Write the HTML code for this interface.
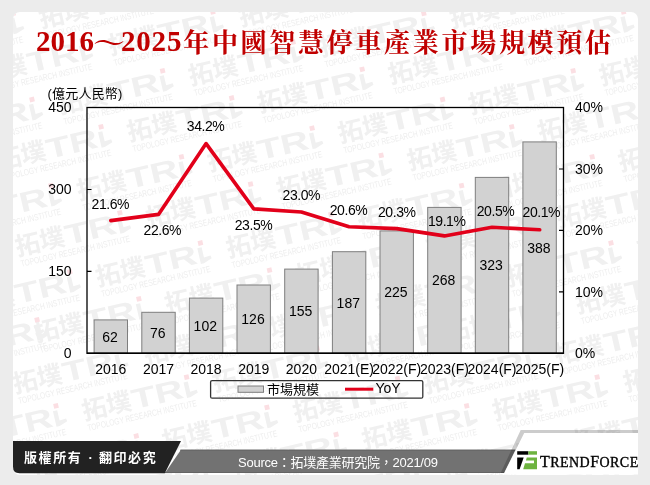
<!DOCTYPE html>
<html><head><meta charset="utf-8">
<style>
html,body{margin:0;padding:0;}
body{width:650px;height:485px;overflow:hidden;background:#ececec;position:relative;font-family:"Liberation Sans","Noto Sans CJK TC","Noto Sans CJK SC",sans-serif;}
#panel{position:absolute;left:12.5px;top:12px;width:625.5px;height:462.5px;background:#fff;border-radius:7px;overflow:hidden;}
#title{position:absolute;left:36px;top:22px;white-space:nowrap;color:#c00000;font-weight:bold;font-size:28px;line-height:40px;}
#title .n{font-family:"Liberation Serif",serif;font-size:29px;position:relative;top:-2px;}
#title .c{font-family:"Noto Serif CJK SC","Noto Serif CJK TC",serif;letter-spacing:2.7px;font-size:26px;font-weight:700;position:relative;top:-1px;}
#title .t{font-family:"Noto Serif CJK SC","Noto Serif CJK TC",serif;font-size:27px;margin:0 1px 0 -1px;display:inline-block;transform:scaleX(1.19);transform-origin:0 0;}
svg{position:absolute;left:0;top:0;}
#wm{left:-12.5px;top:-12px;}
#wm .wc{font-family:"Noto Sans CJK TC","Noto Sans CJK SC",sans-serif;font-weight:bold;font-size:25px;fill:#f0f0f0;}
#wm .wt{font-family:"Liberation Sans",sans-serif;font-size:28px;font-weight:bold;fill:#f0f0f0;letter-spacing:0px;}
#wm .ws{font-family:"Liberation Sans",sans-serif;font-size:9px;fill:#eeeeee;}
svg text{font-family:"Liberation Sans","Noto Sans CJK TC","Noto Sans CJK SC",sans-serif;font-size:14px;fill:#000;}
.bar{fill:#d2d2d2;stroke:#7e7e7e;stroke-width:1;}
.ln{fill:none;stroke:#e2001a;stroke-width:3.6;stroke-linejoin:round;stroke-linecap:round;}
#foot1{position:absolute;left:24px;top:449px;color:#fff;font-size:13px;font-weight:bold;letter-spacing:1.6px;white-space:nowrap;font-family:"Noto Sans CJK TC","Noto Sans CJK SC",sans-serif;line-height:16px;}
#foot1 .dot{display:inline-block;width:16.5px;text-align:center;letter-spacing:0;font-family:"Liberation Sans",sans-serif;}
#foot2{position:absolute;left:238px;top:454.5px;color:#fff;font-size:13px;white-space:nowrap;line-height:16px;letter-spacing:-0.25px;font-family:"Liberation Sans","Noto Sans CJK TC","Noto Sans CJK SC",sans-serif;}
#tf{position:absolute;left:540px;top:452.5px;font-family:"Liberation Serif",serif;font-size:16px;color:#000;white-space:nowrap;line-height:18px;letter-spacing:0.45px;}
#tf span{font-size:14px;}
#tf{-webkit-text-stroke:0.35px #000;}
</style></head><body>
<div id="panel"><svg id="wm" width="650" height="485" viewBox="0 0 650 485">
<g transform="translate(143.6,-15.2) rotate(-13)"><text x="-109.5" y="19" class="wc">拓墣</text><text transform="translate(-58.5,19.5) scale(1.4,1)" class="wt">TR</text><path d="M-4.2 4.5H0.2V15L7 14.5L7.5 17.5L-1 20.5H-4.2Z" fill="#f0f0f0"/><rect x="-2.4" y="-2.4" width="4.8" height="4.8" fill="#fbdfe3"/><text x="-108" y="30.5" class="ws" textLength="112" lengthAdjust="spacingAndGlyphs">TOPOLOGY RESEARCH INSTITUTE</text></g>
<g transform="translate(554.3,-15.2) rotate(-13)"><text x="-109.5" y="19" class="wc">拓墣</text><text transform="translate(-58.5,19.5) scale(1.4,1)" class="wt">TR</text><path d="M-4.2 4.5H0.2V15L7 14.5L7.5 17.5L-1 20.5H-4.2Z" fill="#f0f0f0"/><rect x="-2.4" y="-2.4" width="4.8" height="4.8" fill="#fbdfe3"/><text x="-108" y="30.5" class="ws" textLength="112" lengthAdjust="spacingAndGlyphs">TOPOLOGY RESEARCH INSTITUTE</text></g>
<g transform="translate(343.3,-16.8) rotate(-13)"><text x="-109.5" y="19" class="wc">拓墣</text><text transform="translate(-58.5,19.5) scale(1.4,1)" class="wt">TR</text><path d="M-4.2 4.5H0.2V15L7 14.5L7.5 17.5L-1 20.5H-4.2Z" fill="#f0f0f0"/><rect x="-2.4" y="-2.4" width="4.8" height="4.8" fill="#fbdfe3"/><text x="-108" y="30.5" class="ws" textLength="112" lengthAdjust="spacingAndGlyphs">TOPOLOGY RESEARCH INSTITUTE</text></g>
<g transform="translate(754.0,-16.8) rotate(-13)"><text x="-109.5" y="19" class="wc">拓墣</text><text transform="translate(-58.5,19.5) scale(1.4,1)" class="wt">TR</text><path d="M-4.2 4.5H0.2V15L7 14.5L7.5 17.5L-1 20.5H-4.2Z" fill="#f0f0f0"/><rect x="-2.4" y="-2.4" width="4.8" height="4.8" fill="#fbdfe3"/><text x="-108" y="30.5" class="ws" textLength="112" lengthAdjust="spacingAndGlyphs">TOPOLOGY RESEARCH INSTITUTE</text></g>
<g transform="translate(13.1,13.4) rotate(-13)"><text x="-109.5" y="19" class="wc">拓墣</text><text transform="translate(-58.5,19.5) scale(1.4,1)" class="wt">TR</text><path d="M-4.2 4.5H0.2V15L7 14.5L7.5 17.5L-1 20.5H-4.2Z" fill="#f0f0f0"/><rect x="-2.4" y="-2.4" width="4.8" height="4.8" fill="#fbdfe3"/><text x="-108" y="30.5" class="ws" textLength="112" lengthAdjust="spacingAndGlyphs">TOPOLOGY RESEARCH INSTITUTE</text></g>
<g transform="translate(423.8,13.4) rotate(-13)"><text x="-109.5" y="19" class="wc">拓墣</text><text transform="translate(-58.5,19.5) scale(1.4,1)" class="wt">TR</text><path d="M-4.2 4.5H0.2V15L7 14.5L7.5 17.5L-1 20.5H-4.2Z" fill="#f0f0f0"/><rect x="-2.4" y="-2.4" width="4.8" height="4.8" fill="#fbdfe3"/><text x="-108" y="30.5" class="ws" textLength="112" lengthAdjust="spacingAndGlyphs">TOPOLOGY RESEARCH INSTITUTE</text></g>
<g transform="translate(212.8,11.9) rotate(-13)"><text x="-109.5" y="19" class="wc">拓墣</text><text transform="translate(-58.5,19.5) scale(1.4,1)" class="wt">TR</text><path d="M-4.2 4.5H0.2V15L7 14.5L7.5 17.5L-1 20.5H-4.2Z" fill="#f0f0f0"/><rect x="-2.4" y="-2.4" width="4.8" height="4.8" fill="#fbdfe3"/><text x="-108" y="30.5" class="ws" textLength="112" lengthAdjust="spacingAndGlyphs">TOPOLOGY RESEARCH INSTITUTE</text></g>
<g transform="translate(623.5,11.9) rotate(-13)"><text x="-109.5" y="19" class="wc">拓墣</text><text transform="translate(-58.5,19.5) scale(1.4,1)" class="wt">TR</text><path d="M-4.2 4.5H0.2V15L7 14.5L7.5 17.5L-1 20.5H-4.2Z" fill="#f0f0f0"/><rect x="-2.4" y="-2.4" width="4.8" height="4.8" fill="#fbdfe3"/><text x="-108" y="30.5" class="ws" textLength="112" lengthAdjust="spacingAndGlyphs">TOPOLOGY RESEARCH INSTITUTE</text></g>
<g transform="translate(293.1,42.1) rotate(-13)"><text x="-109.5" y="19" class="wc">拓墣</text><text transform="translate(-58.5,19.5) scale(1.4,1)" class="wt">TR</text><path d="M-4.2 4.5H0.2V15L7 14.5L7.5 17.5L-1 20.5H-4.2Z" fill="#f0f0f0"/><rect x="-2.4" y="-2.4" width="4.8" height="4.8" fill="#fbdfe3"/><text x="-108" y="30.5" class="ws" textLength="112" lengthAdjust="spacingAndGlyphs">TOPOLOGY RESEARCH INSTITUTE</text></g>
<g transform="translate(703.8,42.1) rotate(-13)"><text x="-109.5" y="19" class="wc">拓墣</text><text transform="translate(-58.5,19.5) scale(1.4,1)" class="wt">TR</text><path d="M-4.2 4.5H0.2V15L7 14.5L7.5 17.5L-1 20.5H-4.2Z" fill="#f0f0f0"/><rect x="-2.4" y="-2.4" width="4.8" height="4.8" fill="#fbdfe3"/><text x="-108" y="30.5" class="ws" textLength="112" lengthAdjust="spacingAndGlyphs">TOPOLOGY RESEARCH INSTITUTE</text></g>
<g transform="translate(82.1,40.6) rotate(-13)"><text x="-109.5" y="19" class="wc">拓墣</text><text transform="translate(-58.5,19.5) scale(1.4,1)" class="wt">TR</text><path d="M-4.2 4.5H0.2V15L7 14.5L7.5 17.5L-1 20.5H-4.2Z" fill="#f0f0f0"/><rect x="-2.4" y="-2.4" width="4.8" height="4.8" fill="#fbdfe3"/><text x="-108" y="30.5" class="ws" textLength="112" lengthAdjust="spacingAndGlyphs">TOPOLOGY RESEARCH INSTITUTE</text></g>
<g transform="translate(492.8,40.6) rotate(-13)"><text x="-109.5" y="19" class="wc">拓墣</text><text transform="translate(-58.5,19.5) scale(1.4,1)" class="wt">TR</text><path d="M-4.2 4.5H0.2V15L7 14.5L7.5 17.5L-1 20.5H-4.2Z" fill="#f0f0f0"/><rect x="-2.4" y="-2.4" width="4.8" height="4.8" fill="#fbdfe3"/><text x="-108" y="30.5" class="ws" textLength="112" lengthAdjust="spacingAndGlyphs">TOPOLOGY RESEARCH INSTITUTE</text></g>
<g transform="translate(162.6,70.8) rotate(-13)"><text x="-109.5" y="19" class="wc">拓墣</text><text transform="translate(-58.5,19.5) scale(1.4,1)" class="wt">TR</text><path d="M-4.2 4.5H0.2V15L7 14.5L7.5 17.5L-1 20.5H-4.2Z" fill="#f0f0f0"/><rect x="-2.4" y="-2.4" width="4.8" height="4.8" fill="#fbdfe3"/><text x="-108" y="30.5" class="ws" textLength="112" lengthAdjust="spacingAndGlyphs">TOPOLOGY RESEARCH INSTITUTE</text></g>
<g transform="translate(573.2,70.8) rotate(-13)"><text x="-109.5" y="19" class="wc">拓墣</text><text transform="translate(-58.5,19.5) scale(1.4,1)" class="wt">TR</text><path d="M-4.2 4.5H0.2V15L7 14.5L7.5 17.5L-1 20.5H-4.2Z" fill="#f0f0f0"/><rect x="-2.4" y="-2.4" width="4.8" height="4.8" fill="#fbdfe3"/><text x="-108" y="30.5" class="ws" textLength="112" lengthAdjust="spacingAndGlyphs">TOPOLOGY RESEARCH INSTITUTE</text></g>
<g transform="translate(362.2,69.3) rotate(-13)"><text x="-109.5" y="19" class="wc">拓墣</text><text transform="translate(-58.5,19.5) scale(1.4,1)" class="wt">TR</text><path d="M-4.2 4.5H0.2V15L7 14.5L7.5 17.5L-1 20.5H-4.2Z" fill="#f0f0f0"/><rect x="-2.4" y="-2.4" width="4.8" height="4.8" fill="#fbdfe3"/><text x="-108" y="30.5" class="ws" textLength="112" lengthAdjust="spacingAndGlyphs">TOPOLOGY RESEARCH INSTITUTE</text></g>
<g transform="translate(32.0,99.5) rotate(-13)"><text x="-109.5" y="19" class="wc">拓墣</text><text transform="translate(-58.5,19.5) scale(1.4,1)" class="wt">TR</text><path d="M-4.2 4.5H0.2V15L7 14.5L7.5 17.5L-1 20.5H-4.2Z" fill="#f0f0f0"/><rect x="-2.4" y="-2.4" width="4.8" height="4.8" fill="#fbdfe3"/><text x="-108" y="30.5" class="ws" textLength="112" lengthAdjust="spacingAndGlyphs">TOPOLOGY RESEARCH INSTITUTE</text></g>
<g transform="translate(442.6,99.5) rotate(-13)"><text x="-109.5" y="19" class="wc">拓墣</text><text transform="translate(-58.5,19.5) scale(1.4,1)" class="wt">TR</text><path d="M-4.2 4.5H0.2V15L7 14.5L7.5 17.5L-1 20.5H-4.2Z" fill="#f0f0f0"/><rect x="-2.4" y="-2.4" width="4.8" height="4.8" fill="#fbdfe3"/><text x="-108" y="30.5" class="ws" textLength="112" lengthAdjust="spacingAndGlyphs">TOPOLOGY RESEARCH INSTITUTE</text></g>
<g transform="translate(231.7,98.0) rotate(-13)"><text x="-109.5" y="19" class="wc">拓墣</text><text transform="translate(-58.5,19.5) scale(1.4,1)" class="wt">TR</text><path d="M-4.2 4.5H0.2V15L7 14.5L7.5 17.5L-1 20.5H-4.2Z" fill="#f0f0f0"/><rect x="-2.4" y="-2.4" width="4.8" height="4.8" fill="#fbdfe3"/><text x="-108" y="30.5" class="ws" textLength="112" lengthAdjust="spacingAndGlyphs">TOPOLOGY RESEARCH INSTITUTE</text></g>
<g transform="translate(642.4,98.0) rotate(-13)"><text x="-109.5" y="19" class="wc">拓墣</text><text transform="translate(-58.5,19.5) scale(1.4,1)" class="wt">TR</text><path d="M-4.2 4.5H0.2V15L7 14.5L7.5 17.5L-1 20.5H-4.2Z" fill="#f0f0f0"/><rect x="-2.4" y="-2.4" width="4.8" height="4.8" fill="#fbdfe3"/><text x="-108" y="30.5" class="ws" textLength="112" lengthAdjust="spacingAndGlyphs">TOPOLOGY RESEARCH INSTITUTE</text></g>
<g transform="translate(312.1,128.2) rotate(-13)"><text x="-109.5" y="19" class="wc">拓墣</text><text transform="translate(-58.5,19.5) scale(1.4,1)" class="wt">TR</text><path d="M-4.2 4.5H0.2V15L7 14.5L7.5 17.5L-1 20.5H-4.2Z" fill="#f0f0f0"/><rect x="-2.4" y="-2.4" width="4.8" height="4.8" fill="#fbdfe3"/><text x="-108" y="30.5" class="ws" textLength="112" lengthAdjust="spacingAndGlyphs">TOPOLOGY RESEARCH INSTITUTE</text></g>
<g transform="translate(722.8,128.2) rotate(-13)"><text x="-109.5" y="19" class="wc">拓墣</text><text transform="translate(-58.5,19.5) scale(1.4,1)" class="wt">TR</text><path d="M-4.2 4.5H0.2V15L7 14.5L7.5 17.5L-1 20.5H-4.2Z" fill="#f0f0f0"/><rect x="-2.4" y="-2.4" width="4.8" height="4.8" fill="#fbdfe3"/><text x="-108" y="30.5" class="ws" textLength="112" lengthAdjust="spacingAndGlyphs">TOPOLOGY RESEARCH INSTITUTE</text></g>
<g transform="translate(101.1,126.8) rotate(-13)"><text x="-109.5" y="19" class="wc">拓墣</text><text transform="translate(-58.5,19.5) scale(1.4,1)" class="wt">TR</text><path d="M-4.2 4.5H0.2V15L7 14.5L7.5 17.5L-1 20.5H-4.2Z" fill="#f0f0f0"/><rect x="-2.4" y="-2.4" width="4.8" height="4.8" fill="#fbdfe3"/><text x="-108" y="30.5" class="ws" textLength="112" lengthAdjust="spacingAndGlyphs">TOPOLOGY RESEARCH INSTITUTE</text></g>
<g transform="translate(511.8,126.8) rotate(-13)"><text x="-109.5" y="19" class="wc">拓墣</text><text transform="translate(-58.5,19.5) scale(1.4,1)" class="wt">TR</text><path d="M-4.2 4.5H0.2V15L7 14.5L7.5 17.5L-1 20.5H-4.2Z" fill="#f0f0f0"/><rect x="-2.4" y="-2.4" width="4.8" height="4.8" fill="#fbdfe3"/><text x="-108" y="30.5" class="ws" textLength="112" lengthAdjust="spacingAndGlyphs">TOPOLOGY RESEARCH INSTITUTE</text></g>
<g transform="translate(181.5,156.9) rotate(-13)"><text x="-109.5" y="19" class="wc">拓墣</text><text transform="translate(-58.5,19.5) scale(1.4,1)" class="wt">TR</text><path d="M-4.2 4.5H0.2V15L7 14.5L7.5 17.5L-1 20.5H-4.2Z" fill="#f0f0f0"/><rect x="-2.4" y="-2.4" width="4.8" height="4.8" fill="#fbdfe3"/><text x="-108" y="30.5" class="ws" textLength="112" lengthAdjust="spacingAndGlyphs">TOPOLOGY RESEARCH INSTITUTE</text></g>
<g transform="translate(592.2,156.9) rotate(-13)"><text x="-109.5" y="19" class="wc">拓墣</text><text transform="translate(-58.5,19.5) scale(1.4,1)" class="wt">TR</text><path d="M-4.2 4.5H0.2V15L7 14.5L7.5 17.5L-1 20.5H-4.2Z" fill="#f0f0f0"/><rect x="-2.4" y="-2.4" width="4.8" height="4.8" fill="#fbdfe3"/><text x="-108" y="30.5" class="ws" textLength="112" lengthAdjust="spacingAndGlyphs">TOPOLOGY RESEARCH INSTITUTE</text></g>
<g transform="translate(381.2,155.4) rotate(-13)"><text x="-109.5" y="19" class="wc">拓墣</text><text transform="translate(-58.5,19.5) scale(1.4,1)" class="wt">TR</text><path d="M-4.2 4.5H0.2V15L7 14.5L7.5 17.5L-1 20.5H-4.2Z" fill="#f0f0f0"/><rect x="-2.4" y="-2.4" width="4.8" height="4.8" fill="#fbdfe3"/><text x="-108" y="30.5" class="ws" textLength="112" lengthAdjust="spacingAndGlyphs">TOPOLOGY RESEARCH INSTITUTE</text></g>
<g transform="translate(50.9,185.6) rotate(-13)"><text x="-109.5" y="19" class="wc">拓墣</text><text transform="translate(-58.5,19.5) scale(1.4,1)" class="wt">TR</text><path d="M-4.2 4.5H0.2V15L7 14.5L7.5 17.5L-1 20.5H-4.2Z" fill="#f0f0f0"/><rect x="-2.4" y="-2.4" width="4.8" height="4.8" fill="#fbdfe3"/><text x="-108" y="30.5" class="ws" textLength="112" lengthAdjust="spacingAndGlyphs">TOPOLOGY RESEARCH INSTITUTE</text></g>
<g transform="translate(461.6,185.6) rotate(-13)"><text x="-109.5" y="19" class="wc">拓墣</text><text transform="translate(-58.5,19.5) scale(1.4,1)" class="wt">TR</text><path d="M-4.2 4.5H0.2V15L7 14.5L7.5 17.5L-1 20.5H-4.2Z" fill="#f0f0f0"/><rect x="-2.4" y="-2.4" width="4.8" height="4.8" fill="#fbdfe3"/><text x="-108" y="30.5" class="ws" textLength="112" lengthAdjust="spacingAndGlyphs">TOPOLOGY RESEARCH INSTITUTE</text></g>
<g transform="translate(250.6,184.1) rotate(-13)"><text x="-109.5" y="19" class="wc">拓墣</text><text transform="translate(-58.5,19.5) scale(1.4,1)" class="wt">TR</text><path d="M-4.2 4.5H0.2V15L7 14.5L7.5 17.5L-1 20.5H-4.2Z" fill="#f0f0f0"/><rect x="-2.4" y="-2.4" width="4.8" height="4.8" fill="#fbdfe3"/><text x="-108" y="30.5" class="ws" textLength="112" lengthAdjust="spacingAndGlyphs">TOPOLOGY RESEARCH INSTITUTE</text></g>
<g transform="translate(661.2,184.1) rotate(-13)"><text x="-109.5" y="19" class="wc">拓墣</text><text transform="translate(-58.5,19.5) scale(1.4,1)" class="wt">TR</text><path d="M-4.2 4.5H0.2V15L7 14.5L7.5 17.5L-1 20.5H-4.2Z" fill="#f0f0f0"/><rect x="-2.4" y="-2.4" width="4.8" height="4.8" fill="#fbdfe3"/><text x="-108" y="30.5" class="ws" textLength="112" lengthAdjust="spacingAndGlyphs">TOPOLOGY RESEARCH INSTITUTE</text></g>
<g transform="translate(330.9,214.3) rotate(-13)"><text x="-109.5" y="19" class="wc">拓墣</text><text transform="translate(-58.5,19.5) scale(1.4,1)" class="wt">TR</text><path d="M-4.2 4.5H0.2V15L7 14.5L7.5 17.5L-1 20.5H-4.2Z" fill="#f0f0f0"/><rect x="-2.4" y="-2.4" width="4.8" height="4.8" fill="#fbdfe3"/><text x="-108" y="30.5" class="ws" textLength="112" lengthAdjust="spacingAndGlyphs">TOPOLOGY RESEARCH INSTITUTE</text></g>
<g transform="translate(741.6,214.3) rotate(-13)"><text x="-109.5" y="19" class="wc">拓墣</text><text transform="translate(-58.5,19.5) scale(1.4,1)" class="wt">TR</text><path d="M-4.2 4.5H0.2V15L7 14.5L7.5 17.5L-1 20.5H-4.2Z" fill="#f0f0f0"/><rect x="-2.4" y="-2.4" width="4.8" height="4.8" fill="#fbdfe3"/><text x="-108" y="30.5" class="ws" textLength="112" lengthAdjust="spacingAndGlyphs">TOPOLOGY RESEARCH INSTITUTE</text></g>
<g transform="translate(119.9,212.8) rotate(-13)"><text x="-109.5" y="19" class="wc">拓墣</text><text transform="translate(-58.5,19.5) scale(1.4,1)" class="wt">TR</text><path d="M-4.2 4.5H0.2V15L7 14.5L7.5 17.5L-1 20.5H-4.2Z" fill="#f0f0f0"/><rect x="-2.4" y="-2.4" width="4.8" height="4.8" fill="#fbdfe3"/><text x="-108" y="30.5" class="ws" textLength="112" lengthAdjust="spacingAndGlyphs">TOPOLOGY RESEARCH INSTITUTE</text></g>
<g transform="translate(530.6,212.8) rotate(-13)"><text x="-109.5" y="19" class="wc">拓墣</text><text transform="translate(-58.5,19.5) scale(1.4,1)" class="wt">TR</text><path d="M-4.2 4.5H0.2V15L7 14.5L7.5 17.5L-1 20.5H-4.2Z" fill="#f0f0f0"/><rect x="-2.4" y="-2.4" width="4.8" height="4.8" fill="#fbdfe3"/><text x="-108" y="30.5" class="ws" textLength="112" lengthAdjust="spacingAndGlyphs">TOPOLOGY RESEARCH INSTITUTE</text></g>
<g transform="translate(200.4,243.0) rotate(-13)"><text x="-109.5" y="19" class="wc">拓墣</text><text transform="translate(-58.5,19.5) scale(1.4,1)" class="wt">TR</text><path d="M-4.2 4.5H0.2V15L7 14.5L7.5 17.5L-1 20.5H-4.2Z" fill="#f0f0f0"/><rect x="-2.4" y="-2.4" width="4.8" height="4.8" fill="#fbdfe3"/><text x="-108" y="30.5" class="ws" textLength="112" lengthAdjust="spacingAndGlyphs">TOPOLOGY RESEARCH INSTITUTE</text></g>
<g transform="translate(611.0,243.0) rotate(-13)"><text x="-109.5" y="19" class="wc">拓墣</text><text transform="translate(-58.5,19.5) scale(1.4,1)" class="wt">TR</text><path d="M-4.2 4.5H0.2V15L7 14.5L7.5 17.5L-1 20.5H-4.2Z" fill="#f0f0f0"/><rect x="-2.4" y="-2.4" width="4.8" height="4.8" fill="#fbdfe3"/><text x="-108" y="30.5" class="ws" textLength="112" lengthAdjust="spacingAndGlyphs">TOPOLOGY RESEARCH INSTITUTE</text></g>
<g transform="translate(400.1,241.5) rotate(-13)"><text x="-109.5" y="19" class="wc">拓墣</text><text transform="translate(-58.5,19.5) scale(1.4,1)" class="wt">TR</text><path d="M-4.2 4.5H0.2V15L7 14.5L7.5 17.5L-1 20.5H-4.2Z" fill="#f0f0f0"/><rect x="-2.4" y="-2.4" width="4.8" height="4.8" fill="#fbdfe3"/><text x="-108" y="30.5" class="ws" textLength="112" lengthAdjust="spacingAndGlyphs">TOPOLOGY RESEARCH INSTITUTE</text></g>
<g transform="translate(69.8,271.8) rotate(-13)"><text x="-109.5" y="19" class="wc">拓墣</text><text transform="translate(-58.5,19.5) scale(1.4,1)" class="wt">TR</text><path d="M-4.2 4.5H0.2V15L7 14.5L7.5 17.5L-1 20.5H-4.2Z" fill="#f0f0f0"/><rect x="-2.4" y="-2.4" width="4.8" height="4.8" fill="#fbdfe3"/><text x="-108" y="30.5" class="ws" textLength="112" lengthAdjust="spacingAndGlyphs">TOPOLOGY RESEARCH INSTITUTE</text></g>
<g transform="translate(480.5,271.8) rotate(-13)"><text x="-109.5" y="19" class="wc">拓墣</text><text transform="translate(-58.5,19.5) scale(1.4,1)" class="wt">TR</text><path d="M-4.2 4.5H0.2V15L7 14.5L7.5 17.5L-1 20.5H-4.2Z" fill="#f0f0f0"/><rect x="-2.4" y="-2.4" width="4.8" height="4.8" fill="#fbdfe3"/><text x="-108" y="30.5" class="ws" textLength="112" lengthAdjust="spacingAndGlyphs">TOPOLOGY RESEARCH INSTITUTE</text></g>
<g transform="translate(269.5,270.2) rotate(-13)"><text x="-109.5" y="19" class="wc">拓墣</text><text transform="translate(-58.5,19.5) scale(1.4,1)" class="wt">TR</text><path d="M-4.2 4.5H0.2V15L7 14.5L7.5 17.5L-1 20.5H-4.2Z" fill="#f0f0f0"/><rect x="-2.4" y="-2.4" width="4.8" height="4.8" fill="#fbdfe3"/><text x="-108" y="30.5" class="ws" textLength="112" lengthAdjust="spacingAndGlyphs">TOPOLOGY RESEARCH INSTITUTE</text></g>
<g transform="translate(680.2,270.2) rotate(-13)"><text x="-109.5" y="19" class="wc">拓墣</text><text transform="translate(-58.5,19.5) scale(1.4,1)" class="wt">TR</text><path d="M-4.2 4.5H0.2V15L7 14.5L7.5 17.5L-1 20.5H-4.2Z" fill="#f0f0f0"/><rect x="-2.4" y="-2.4" width="4.8" height="4.8" fill="#fbdfe3"/><text x="-108" y="30.5" class="ws" textLength="112" lengthAdjust="spacingAndGlyphs">TOPOLOGY RESEARCH INSTITUTE</text></g>
<g transform="translate(349.8,300.4) rotate(-13)"><text x="-109.5" y="19" class="wc">拓墣</text><text transform="translate(-58.5,19.5) scale(1.4,1)" class="wt">TR</text><path d="M-4.2 4.5H0.2V15L7 14.5L7.5 17.5L-1 20.5H-4.2Z" fill="#f0f0f0"/><rect x="-2.4" y="-2.4" width="4.8" height="4.8" fill="#fbdfe3"/><text x="-108" y="30.5" class="ws" textLength="112" lengthAdjust="spacingAndGlyphs">TOPOLOGY RESEARCH INSTITUTE</text></g>
<g transform="translate(760.5,300.4) rotate(-13)"><text x="-109.5" y="19" class="wc">拓墣</text><text transform="translate(-58.5,19.5) scale(1.4,1)" class="wt">TR</text><path d="M-4.2 4.5H0.2V15L7 14.5L7.5 17.5L-1 20.5H-4.2Z" fill="#f0f0f0"/><rect x="-2.4" y="-2.4" width="4.8" height="4.8" fill="#fbdfe3"/><text x="-108" y="30.5" class="ws" textLength="112" lengthAdjust="spacingAndGlyphs">TOPOLOGY RESEARCH INSTITUTE</text></g>
<g transform="translate(138.9,298.9) rotate(-13)"><text x="-109.5" y="19" class="wc">拓墣</text><text transform="translate(-58.5,19.5) scale(1.4,1)" class="wt">TR</text><path d="M-4.2 4.5H0.2V15L7 14.5L7.5 17.5L-1 20.5H-4.2Z" fill="#f0f0f0"/><rect x="-2.4" y="-2.4" width="4.8" height="4.8" fill="#fbdfe3"/><text x="-108" y="30.5" class="ws" textLength="112" lengthAdjust="spacingAndGlyphs">TOPOLOGY RESEARCH INSTITUTE</text></g>
<g transform="translate(549.5,298.9) rotate(-13)"><text x="-109.5" y="19" class="wc">拓墣</text><text transform="translate(-58.5,19.5) scale(1.4,1)" class="wt">TR</text><path d="M-4.2 4.5H0.2V15L7 14.5L7.5 17.5L-1 20.5H-4.2Z" fill="#f0f0f0"/><rect x="-2.4" y="-2.4" width="4.8" height="4.8" fill="#fbdfe3"/><text x="-108" y="30.5" class="ws" textLength="112" lengthAdjust="spacingAndGlyphs">TOPOLOGY RESEARCH INSTITUTE</text></g>
<g transform="translate(248.1,321.2) rotate(-13)"><text x="-109.5" y="19" class="wc">拓墣</text><text transform="translate(-58.5,19.5) scale(1.4,1)" class="wt">TR</text><path d="M-4.2 4.5H0.2V15L7 14.5L7.5 17.5L-1 20.5H-4.2Z" fill="#f0f0f0"/><rect x="-2.4" y="-2.4" width="4.8" height="4.8" fill="#fbdfe3"/><text x="-108" y="30.5" class="ws" textLength="112" lengthAdjust="spacingAndGlyphs">TOPOLOGY RESEARCH INSTITUTE</text></g>
<g transform="translate(658.8,321.2) rotate(-13)"><text x="-109.5" y="19" class="wc">拓墣</text><text transform="translate(-58.5,19.5) scale(1.4,1)" class="wt">TR</text><path d="M-4.2 4.5H0.2V15L7 14.5L7.5 17.5L-1 20.5H-4.2Z" fill="#f0f0f0"/><rect x="-2.4" y="-2.4" width="4.8" height="4.8" fill="#fbdfe3"/><text x="-108" y="30.5" class="ws" textLength="112" lengthAdjust="spacingAndGlyphs">TOPOLOGY RESEARCH INSTITUTE</text></g>
<g transform="translate(37.1,319.8) rotate(-13)"><text x="-109.5" y="19" class="wc">拓墣</text><text transform="translate(-58.5,19.5) scale(1.4,1)" class="wt">TR</text><path d="M-4.2 4.5H0.2V15L7 14.5L7.5 17.5L-1 20.5H-4.2Z" fill="#f0f0f0"/><rect x="-2.4" y="-2.4" width="4.8" height="4.8" fill="#fbdfe3"/><text x="-108" y="30.5" class="ws" textLength="112" lengthAdjust="spacingAndGlyphs">TOPOLOGY RESEARCH INSTITUTE</text></g>
<g transform="translate(447.8,319.8) rotate(-13)"><text x="-109.5" y="19" class="wc">拓墣</text><text transform="translate(-58.5,19.5) scale(1.4,1)" class="wt">TR</text><path d="M-4.2 4.5H0.2V15L7 14.5L7.5 17.5L-1 20.5H-4.2Z" fill="#f0f0f0"/><rect x="-2.4" y="-2.4" width="4.8" height="4.8" fill="#fbdfe3"/><text x="-108" y="30.5" class="ws" textLength="112" lengthAdjust="spacingAndGlyphs">TOPOLOGY RESEARCH INSTITUTE</text></g>
<g transform="translate(117.4,350.0) rotate(-13)"><text x="-109.5" y="19" class="wc">拓墣</text><text transform="translate(-58.5,19.5) scale(1.4,1)" class="wt">TR</text><path d="M-4.2 4.5H0.2V15L7 14.5L7.5 17.5L-1 20.5H-4.2Z" fill="#f0f0f0"/><rect x="-2.4" y="-2.4" width="4.8" height="4.8" fill="#fbdfe3"/><text x="-108" y="30.5" class="ws" textLength="112" lengthAdjust="spacingAndGlyphs">TOPOLOGY RESEARCH INSTITUTE</text></g>
<g transform="translate(528.1,350.0) rotate(-13)"><text x="-109.5" y="19" class="wc">拓墣</text><text transform="translate(-58.5,19.5) scale(1.4,1)" class="wt">TR</text><path d="M-4.2 4.5H0.2V15L7 14.5L7.5 17.5L-1 20.5H-4.2Z" fill="#f0f0f0"/><rect x="-2.4" y="-2.4" width="4.8" height="4.8" fill="#fbdfe3"/><text x="-108" y="30.5" class="ws" textLength="112" lengthAdjust="spacingAndGlyphs">TOPOLOGY RESEARCH INSTITUTE</text></g>
<g transform="translate(317.1,348.5) rotate(-13)"><text x="-109.5" y="19" class="wc">拓墣</text><text transform="translate(-58.5,19.5) scale(1.4,1)" class="wt">TR</text><path d="M-4.2 4.5H0.2V15L7 14.5L7.5 17.5L-1 20.5H-4.2Z" fill="#f0f0f0"/><rect x="-2.4" y="-2.4" width="4.8" height="4.8" fill="#fbdfe3"/><text x="-108" y="30.5" class="ws" textLength="112" lengthAdjust="spacingAndGlyphs">TOPOLOGY RESEARCH INSTITUTE</text></g>
<g transform="translate(727.8,348.5) rotate(-13)"><text x="-109.5" y="19" class="wc">拓墣</text><text transform="translate(-58.5,19.5) scale(1.4,1)" class="wt">TR</text><path d="M-4.2 4.5H0.2V15L7 14.5L7.5 17.5L-1 20.5H-4.2Z" fill="#f0f0f0"/><rect x="-2.4" y="-2.4" width="4.8" height="4.8" fill="#fbdfe3"/><text x="-108" y="30.5" class="ws" textLength="112" lengthAdjust="spacingAndGlyphs">TOPOLOGY RESEARCH INSTITUTE</text></g>
<g transform="translate(397.6,378.6) rotate(-13)"><text x="-109.5" y="19" class="wc">拓墣</text><text transform="translate(-58.5,19.5) scale(1.4,1)" class="wt">TR</text><path d="M-4.2 4.5H0.2V15L7 14.5L7.5 17.5L-1 20.5H-4.2Z" fill="#f0f0f0"/><rect x="-2.4" y="-2.4" width="4.8" height="4.8" fill="#fbdfe3"/><text x="-108" y="30.5" class="ws" textLength="112" lengthAdjust="spacingAndGlyphs">TOPOLOGY RESEARCH INSTITUTE</text></g>
<g transform="translate(186.6,377.1) rotate(-13)"><text x="-109.5" y="19" class="wc">拓墣</text><text transform="translate(-58.5,19.5) scale(1.4,1)" class="wt">TR</text><path d="M-4.2 4.5H0.2V15L7 14.5L7.5 17.5L-1 20.5H-4.2Z" fill="#f0f0f0"/><rect x="-2.4" y="-2.4" width="4.8" height="4.8" fill="#fbdfe3"/><text x="-108" y="30.5" class="ws" textLength="112" lengthAdjust="spacingAndGlyphs">TOPOLOGY RESEARCH INSTITUTE</text></g>
<g transform="translate(597.2,377.1) rotate(-13)"><text x="-109.5" y="19" class="wc">拓墣</text><text transform="translate(-58.5,19.5) scale(1.4,1)" class="wt">TR</text><path d="M-4.2 4.5H0.2V15L7 14.5L7.5 17.5L-1 20.5H-4.2Z" fill="#f0f0f0"/><rect x="-2.4" y="-2.4" width="4.8" height="4.8" fill="#fbdfe3"/><text x="-108" y="30.5" class="ws" textLength="112" lengthAdjust="spacingAndGlyphs">TOPOLOGY RESEARCH INSTITUTE</text></g>
<g transform="translate(267.0,407.4) rotate(-13)"><text x="-109.5" y="19" class="wc">拓墣</text><text transform="translate(-58.5,19.5) scale(1.4,1)" class="wt">TR</text><path d="M-4.2 4.5H0.2V15L7 14.5L7.5 17.5L-1 20.5H-4.2Z" fill="#f0f0f0"/><rect x="-2.4" y="-2.4" width="4.8" height="4.8" fill="#fbdfe3"/><text x="-108" y="30.5" class="ws" textLength="112" lengthAdjust="spacingAndGlyphs">TOPOLOGY RESEARCH INSTITUTE</text></g>
<g transform="translate(677.7,407.4) rotate(-13)"><text x="-109.5" y="19" class="wc">拓墣</text><text transform="translate(-58.5,19.5) scale(1.4,1)" class="wt">TR</text><path d="M-4.2 4.5H0.2V15L7 14.5L7.5 17.5L-1 20.5H-4.2Z" fill="#f0f0f0"/><rect x="-2.4" y="-2.4" width="4.8" height="4.8" fill="#fbdfe3"/><text x="-108" y="30.5" class="ws" textLength="112" lengthAdjust="spacingAndGlyphs">TOPOLOGY RESEARCH INSTITUTE</text></g>
<g transform="translate(56.0,405.9) rotate(-13)"><text x="-109.5" y="19" class="wc">拓墣</text><text transform="translate(-58.5,19.5) scale(1.4,1)" class="wt">TR</text><path d="M-4.2 4.5H0.2V15L7 14.5L7.5 17.5L-1 20.5H-4.2Z" fill="#f0f0f0"/><rect x="-2.4" y="-2.4" width="4.8" height="4.8" fill="#fbdfe3"/><text x="-108" y="30.5" class="ws" textLength="112" lengthAdjust="spacingAndGlyphs">TOPOLOGY RESEARCH INSTITUTE</text></g>
<g transform="translate(466.7,405.9) rotate(-13)"><text x="-109.5" y="19" class="wc">拓墣</text><text transform="translate(-58.5,19.5) scale(1.4,1)" class="wt">TR</text><path d="M-4.2 4.5H0.2V15L7 14.5L7.5 17.5L-1 20.5H-4.2Z" fill="#f0f0f0"/><rect x="-2.4" y="-2.4" width="4.8" height="4.8" fill="#fbdfe3"/><text x="-108" y="30.5" class="ws" textLength="112" lengthAdjust="spacingAndGlyphs">TOPOLOGY RESEARCH INSTITUTE</text></g>
<g transform="translate(136.3,436.0) rotate(-13)"><text x="-109.5" y="19" class="wc">拓墣</text><text transform="translate(-58.5,19.5) scale(1.4,1)" class="wt">TR</text><path d="M-4.2 4.5H0.2V15L7 14.5L7.5 17.5L-1 20.5H-4.2Z" fill="#f0f0f0"/><rect x="-2.4" y="-2.4" width="4.8" height="4.8" fill="#fbdfe3"/><text x="-108" y="30.5" class="ws" textLength="112" lengthAdjust="spacingAndGlyphs">TOPOLOGY RESEARCH INSTITUTE</text></g>
<g transform="translate(547.0,436.0) rotate(-13)"><text x="-109.5" y="19" class="wc">拓墣</text><text transform="translate(-58.5,19.5) scale(1.4,1)" class="wt">TR</text><path d="M-4.2 4.5H0.2V15L7 14.5L7.5 17.5L-1 20.5H-4.2Z" fill="#f0f0f0"/><rect x="-2.4" y="-2.4" width="4.8" height="4.8" fill="#fbdfe3"/><text x="-108" y="30.5" class="ws" textLength="112" lengthAdjust="spacingAndGlyphs">TOPOLOGY RESEARCH INSTITUTE</text></g>
<g transform="translate(336.1,434.5) rotate(-13)"><text x="-109.5" y="19" class="wc">拓墣</text><text transform="translate(-58.5,19.5) scale(1.4,1)" class="wt">TR</text><path d="M-4.2 4.5H0.2V15L7 14.5L7.5 17.5L-1 20.5H-4.2Z" fill="#f0f0f0"/><rect x="-2.4" y="-2.4" width="4.8" height="4.8" fill="#fbdfe3"/><text x="-108" y="30.5" class="ws" textLength="112" lengthAdjust="spacingAndGlyphs">TOPOLOGY RESEARCH INSTITUTE</text></g>
<g transform="translate(746.8,434.5) rotate(-13)"><text x="-109.5" y="19" class="wc">拓墣</text><text transform="translate(-58.5,19.5) scale(1.4,1)" class="wt">TR</text><path d="M-4.2 4.5H0.2V15L7 14.5L7.5 17.5L-1 20.5H-4.2Z" fill="#f0f0f0"/><rect x="-2.4" y="-2.4" width="4.8" height="4.8" fill="#fbdfe3"/><text x="-108" y="30.5" class="ws" textLength="112" lengthAdjust="spacingAndGlyphs">TOPOLOGY RESEARCH INSTITUTE</text></g>
<g transform="translate(5.8,464.8) rotate(-13)"><text x="-109.5" y="19" class="wc">拓墣</text><text transform="translate(-58.5,19.5) scale(1.4,1)" class="wt">TR</text><path d="M-4.2 4.5H0.2V15L7 14.5L7.5 17.5L-1 20.5H-4.2Z" fill="#f0f0f0"/><rect x="-2.4" y="-2.4" width="4.8" height="4.8" fill="#fbdfe3"/><text x="-108" y="30.5" class="ws" textLength="112" lengthAdjust="spacingAndGlyphs">TOPOLOGY RESEARCH INSTITUTE</text></g>
<g transform="translate(416.5,464.8) rotate(-13)"><text x="-109.5" y="19" class="wc">拓墣</text><text transform="translate(-58.5,19.5) scale(1.4,1)" class="wt">TR</text><path d="M-4.2 4.5H0.2V15L7 14.5L7.5 17.5L-1 20.5H-4.2Z" fill="#f0f0f0"/><rect x="-2.4" y="-2.4" width="4.8" height="4.8" fill="#fbdfe3"/><text x="-108" y="30.5" class="ws" textLength="112" lengthAdjust="spacingAndGlyphs">TOPOLOGY RESEARCH INSTITUTE</text></g>
<g transform="translate(205.5,463.2) rotate(-13)"><text x="-109.5" y="19" class="wc">拓墣</text><text transform="translate(-58.5,19.5) scale(1.4,1)" class="wt">TR</text><path d="M-4.2 4.5H0.2V15L7 14.5L7.5 17.5L-1 20.5H-4.2Z" fill="#f0f0f0"/><rect x="-2.4" y="-2.4" width="4.8" height="4.8" fill="#fbdfe3"/><text x="-108" y="30.5" class="ws" textLength="112" lengthAdjust="spacingAndGlyphs">TOPOLOGY RESEARCH INSTITUTE</text></g>
<g transform="translate(616.2,463.2) rotate(-13)"><text x="-109.5" y="19" class="wc">拓墣</text><text transform="translate(-58.5,19.5) scale(1.4,1)" class="wt">TR</text><path d="M-4.2 4.5H0.2V15L7 14.5L7.5 17.5L-1 20.5H-4.2Z" fill="#f0f0f0"/><rect x="-2.4" y="-2.4" width="4.8" height="4.8" fill="#fbdfe3"/><text x="-108" y="30.5" class="ws" textLength="112" lengthAdjust="spacingAndGlyphs">TOPOLOGY RESEARCH INSTITUTE</text></g>
<g transform="translate(285.8,493.5) rotate(-13)"><text x="-109.5" y="19" class="wc">拓墣</text><text transform="translate(-58.5,19.5) scale(1.4,1)" class="wt">TR</text><path d="M-4.2 4.5H0.2V15L7 14.5L7.5 17.5L-1 20.5H-4.2Z" fill="#f0f0f0"/><rect x="-2.4" y="-2.4" width="4.8" height="4.8" fill="#fbdfe3"/><text x="-108" y="30.5" class="ws" textLength="112" lengthAdjust="spacingAndGlyphs">TOPOLOGY RESEARCH INSTITUTE</text></g>
<g transform="translate(696.5,493.5) rotate(-13)"><text x="-109.5" y="19" class="wc">拓墣</text><text transform="translate(-58.5,19.5) scale(1.4,1)" class="wt">TR</text><path d="M-4.2 4.5H0.2V15L7 14.5L7.5 17.5L-1 20.5H-4.2Z" fill="#f0f0f0"/><rect x="-2.4" y="-2.4" width="4.8" height="4.8" fill="#fbdfe3"/><text x="-108" y="30.5" class="ws" textLength="112" lengthAdjust="spacingAndGlyphs">TOPOLOGY RESEARCH INSTITUTE</text></g>
<g transform="translate(74.8,492.0) rotate(-13)"><text x="-109.5" y="19" class="wc">拓墣</text><text transform="translate(-58.5,19.5) scale(1.4,1)" class="wt">TR</text><path d="M-4.2 4.5H0.2V15L7 14.5L7.5 17.5L-1 20.5H-4.2Z" fill="#f0f0f0"/><rect x="-2.4" y="-2.4" width="4.8" height="4.8" fill="#fbdfe3"/><text x="-108" y="30.5" class="ws" textLength="112" lengthAdjust="spacingAndGlyphs">TOPOLOGY RESEARCH INSTITUTE</text></g>
<g transform="translate(485.6,492.0) rotate(-13)"><text x="-109.5" y="19" class="wc">拓墣</text><text transform="translate(-58.5,19.5) scale(1.4,1)" class="wt">TR</text><path d="M-4.2 4.5H0.2V15L7 14.5L7.5 17.5L-1 20.5H-4.2Z" fill="#f0f0f0"/><rect x="-2.4" y="-2.4" width="4.8" height="4.8" fill="#fbdfe3"/><text x="-108" y="30.5" class="ws" textLength="112" lengthAdjust="spacingAndGlyphs">TOPOLOGY RESEARCH INSTITUTE</text></g>
</svg></div>
<svg width="650" height="485" viewBox="0 0 650 485">
  <!-- bars -->
  <rect x="94.1" y="319.9" width="33.4" height="33.4" class="bar"/>
  <rect x="141.8" y="312.3" width="33.4" height="41.0" class="bar"/>
  <rect x="189.4" y="298.1" width="33.4" height="55.2" class="bar"/>
  <rect x="237.0" y="285.0" width="33.4" height="68.3" class="bar"/>
  <rect x="284.7" y="269.1" width="33.4" height="84.2" class="bar"/>
  <rect x="332.4" y="251.7" width="33.4" height="101.6" class="bar"/>
  <rect x="380.0" y="230.9" width="33.4" height="122.4" class="bar"/>
  <rect x="427.7" y="207.4" width="33.4" height="145.9" class="bar"/>
  <rect x="475.3" y="177.4" width="33.4" height="175.9" class="bar"/>
  <rect x="522.9" y="141.9" width="33.4" height="211.4" class="bar"/>
  <!-- frame -->
  <rect x="87" y="107.5" width="476.5" height="245.8" fill="none" stroke="#000" stroke-width="1.3"/>
  <line x1="87" y1="353.3" x2="563.5" y2="353.3" stroke="#000" stroke-width="1.6"/>
  <!-- ticks left (inward) -->
  <path d="M87 271.4H91.5M87 189.5H91.5" stroke="#000" stroke-width="1.2"/>
  <!-- ticks right (inward) -->
  <path d="M559 169H563.5M559 230.4H563.5M559 291.9H563.5" stroke="#000" stroke-width="1.2"/>
  <!-- bar labels -->
  <g text-anchor="middle">
  <text x="110.0" y="341.7">62</text>
  <text x="157.7" y="337.8">76</text>
  <text x="205.3" y="330.7">102</text>
  <text x="253.0" y="324.2">126</text>
  <text x="300.6" y="316.3">155</text>
  <text x="348.3" y="307.5">187</text>
  <text x="395.9" y="297.2">225</text>
  <text x="443.6" y="285.4">268</text>
  <text x="491.2" y="270.4">323</text>
  <text x="538.9" y="252.6">388</text>
  </g>
  <!-- line -->
  <polyline points="110.8,220.6 158.5,214.4 206.1,143.6 253.8,208.9 301.4,212.0 349.1,226.7 396.7,228.6 444.4,235.9 492.0,227.3 539.7,229.8" class="ln"/>
  <!-- line labels -->
  <g text-anchor="middle" letter-spacing="-0.45">
  <text x="110.35" y="208.8">21.6%</text>
  <text x="162.30" y="234.7">22.6%</text>
  <text x="205.55" y="131.0">34.2%</text>
  <text x="253.50" y="229.7">23.5%</text>
  <text x="301.35" y="200.0">23.0%</text>
  <text x="348.50" y="215.3">20.6%</text>
  <text x="396.75" y="217.4">20.3%</text>
  <text x="446.70" y="226.2">19.1%</text>
  <text x="495.50" y="215.8">20.5%</text>
  <text x="541.35" y="217.0">20.1%</text>
  </g>
  <!-- left axis labels -->
  <g text-anchor="end">
  <text x="71.5" y="111.8">450</text>
  <text x="71.5" y="193.6">300</text>
  <text x="71.5" y="275.8">150</text>
  <text x="71.5" y="357.7">0</text>
  </g>
  <text x="47.5" y="97.8" style="font-size:13px" letter-spacing="0.2">(億元人民幣)</text>
  <!-- right axis labels -->
  <g>
  <text x="575" y="112">40%</text>
  <text x="575" y="173.6">30%</text>
  <text x="575" y="235">20%</text>
  <text x="575" y="296.5">10%</text>
  <text x="575" y="357.9">0%</text>
  </g>
  <!-- x labels -->
  <g text-anchor="middle">
  <text x="110.8" y="374">2016</text>
  <text x="158.5" y="374">2017</text>
  <text x="206.1" y="374">2018</text>
  <text x="253.8" y="374">2019</text>
  <text x="301.4" y="374">2020</text>
  <text x="349.1" y="374">2021(E)</text>
  <text x="396.7" y="374">2022(F)</text>
  <text x="444.4" y="374">2023(F)</text>
  <text x="492.0" y="374">2024(F)</text>
  <text x="539.7" y="374">2025(F)</text>
  </g>
  <!-- legend -->
  <rect x="210.6" y="380.6" width="212.2" height="17.6" rx="1.5" fill="none" stroke="#333" stroke-width="1.3"/>
  <rect x="238" y="386" width="25.5" height="6.3" class="bar"/>
  <text x="267" y="393.6" style="font-size:13px">市場規模</text>
  <line x1="345" y1="389.2" x2="373.3" y2="389.2" stroke="#e2001a" stroke-width="3"/>
  <text x="375.4" y="393.4">YoY</text>

  <!-- footer -->
  <polygon points="181,449.7 515.5,449.7 504.2,473 165,473" fill="#727272"/>
  <path d="M180,450.2H515.3M165,472.5H504.4" stroke="#646464" stroke-width="1"/>
  <path d="M13,441 H181 L164.8,473.2 H19.5 Q13,473.2 13,466.7 Z" fill="#222"/>
  <polygon points="524.2,433 638,433 638,474.5 503.4,474.5" fill="#fff"/>
  <polygon points="520.7,430 638,430 638,433 524.2,433 504.2,473 500.7,473" fill="rgba(0,0,0,0.2)"/>
</svg>
<div id="title"><span class="n">2016</span><span class="t">～</span><span class="n" style="letter-spacing:0.8px">2025</span><span class="c" style="margin-left:1px">年中國智慧停車產業市場規模預估</span></div>
<div id="foot1"><span>版權所有</span><span class="dot">·</span><span>翻印必究</span></div>
<div id="foot2">Source：拓墣產業研究院，2021/09</div>
<svg width="650" height="485" viewBox="0 0 650 485" style="pointer-events:none">
  <path d="M517.2,451.2 H528.4 V454.7 H517.2 Z" fill="#000"/>
  <path d="M528.4,451.2 H537 V454.7 H528.4 Z" fill="#6db33f"/>
  <path d="M517.2,457.4 H523.7 L519.6,469.3 H517.2 Z" fill="#000"/>
  <path d="M526.8,457.4 H537 V469.3 H523.2 L525,463.3 H534 V460.6 H525.9 Z" fill="#6db33f"/>
</svg>
<div id="tf">T<span>REND</span>F<span>ORCE</span></div>
</body></html>
